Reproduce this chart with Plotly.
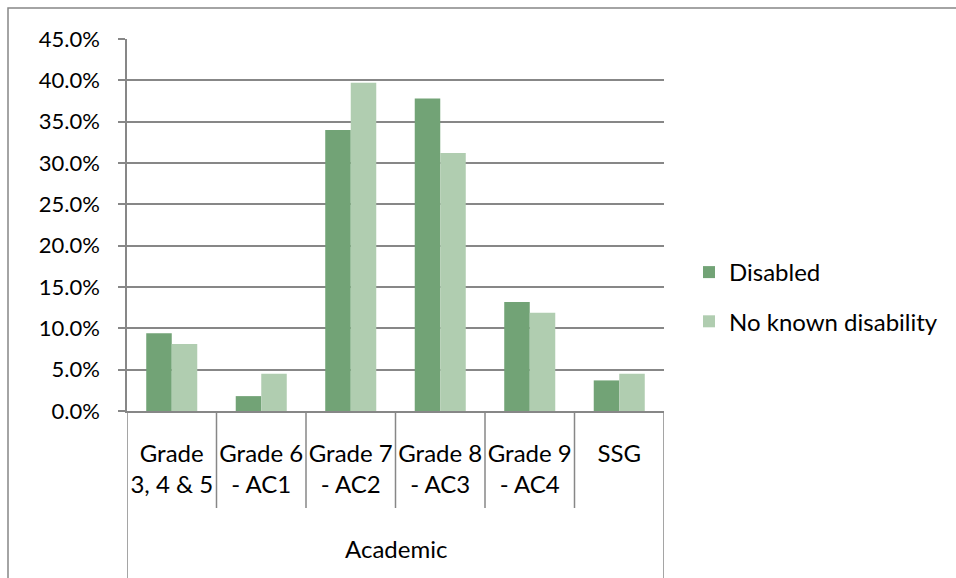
import plotly.graph_objects as go

# Share of learners per academic grade band, by disability status (%)
categories = ["Grade 3, 4 & 5", "Grade 6 - AC1", "Grade 7 - AC2",
              "Grade 8 - AC3", "Grade 9 - AC4", "SSG"]
tick_labels = ["Grade<br>3, 4 & 5", "Grade 6<br>- AC1", "Grade 7<br>- AC2",
               "Grade 8<br>- AC3", "Grade 9<br>- AC4", "SSG"]
group_label = "Academic"
disabled = [9.4, 1.8, 34.0, 37.8, 13.2, 3.7]
no_known_disability = [8.1, 4.5, 39.7, 31.2, 11.9, 4.5]
y_ticks = [0, 5, 10, 15, 20, 25, 30, 35, 40, 45]

W, H = 956, 578
L, R, T, B = 127, 292, 39, 167
PW, PH = W - L - R, H - T - B

FONT = "Lato"
GRID = "#878787"
DARK = "#72A376"
LIGHT = "#B0CDB0"


def px_x(px):
    return (px - L) / PW


def px_y(py):
    return (H - B - py) / PH


fig = go.Figure()
fig.add_trace(go.Bar(x=categories, y=disabled, name="Disabled",
                     marker=dict(color=DARK, line=dict(width=0)),
                     legendgroup="a"))
fig.add_trace(go.Bar(x=categories, y=no_known_disability,
                     name="No known disability",
                     marker=dict(color=LIGHT, line=dict(width=0)),
                     legendgroup="b"))

shapes = []
# category dividers below the x axis
n = len(categories)
for i in range(n + 1):
    outer = i in (0, n)
    shapes.append(dict(type="line", xref="x", yref="paper",
                       x0=i - 0.5, x1=i - 0.5, y0=0,
                       y1=px_y(H + 2) if outer else px_y(508),
                       line=dict(color=GRID, width=1.5)))
# outer chart frame
shapes.append(dict(type="rect", xref="paper", yref="paper",
                   x0=px_x(8), x1=px_x(W + 5), y0=px_y(H + 5), y1=px_y(8),
                   line=dict(color=GRID, width=1.5), fillcolor="rgba(0,0,0,0)",
                   layer="below"))

fig.update_layout(
    width=W, height=H,
    margin=dict(l=L, r=R, t=T, b=B),
    paper_bgcolor="white", plot_bgcolor="white",
    font=dict(family=FONT, size=24, color="#000000"),
    barmode="group", bargap=0.43, bargroupgap=0,
    showlegend=True,
    legend=dict(x=px_x(689), y=px_y(250), xanchor="left", yanchor="top",
                font=dict(size=24), tracegroupgap=15,
                bgcolor="rgba(0,0,0,0)"),
    shapes=shapes,
    annotations=[dict(text=group_label, xref="paper", yref="paper",
                      x=0.5, y=px_y(548), xanchor="center", yanchor="middle",
                      showarrow=False, font=dict(size=24))],
)

fig.update_xaxes(
    type="category", tickvals=categories, ticktext=tick_labels,
    range=[-0.5, n - 0.5],
    showline=True, linecolor=GRID, linewidth=1.5,
    showgrid=False, ticks="", ticklabelstandoff=20,
)
fig.update_yaxes(
    range=[0, 45], tickvals=y_ticks,
    ticktext=[f"{v:.1f}%" for v in y_ticks],
    tickfont=dict(size=22),
    showgrid=True, gridcolor=GRID, gridwidth=1.5,
    showline=True, linecolor=GRID, linewidth=1.5,
    ticks="outside", ticklen=7, tickcolor=GRID, tickwidth=1.5,
    zeroline=False, ticklabelstandoff=14,
)

fig.write_html("out.html")
